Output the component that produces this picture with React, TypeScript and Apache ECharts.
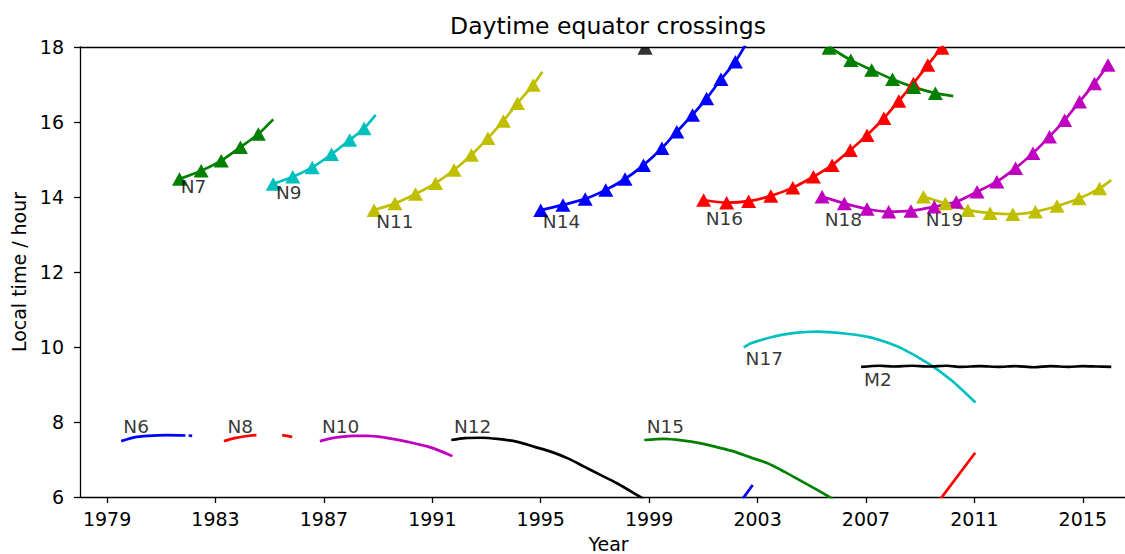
import React, { useEffect, useRef } from "react";
import * as echarts from "echarts";

// ---------- data (years, local time in hours) ----------
const xTickYears = [1979, 1983, 1987, 1991, 1995, 1999, 2003, 2007, 2011, 2015];

// Daytime (ascending) crossings with markers; marked = 1 means a triangle marker
const n7Years = [1981.67, 1982.47, 1983.21, 1983.92, 1984.58, 1985.13];
const n7Hours = [14.48, 14.70, 14.97, 15.33, 15.68, 16.07];
const n7Marked = [1, 1, 1, 1, 1, 0];

const n9Years = [1985.13, 1985.85, 1986.57, 1987.28, 1987.95, 1988.48, 1988.91];
const n9Hours = [14.35, 14.54, 14.79, 15.14, 15.52, 15.83, 16.19];
const n9Marked = [1, 1, 1, 1, 1, 1, 0];

const n11Years = [1988.85, 1989.62, 1990.38, 1991.12, 1991.80, 1992.44, 1993.05, 1993.62, 1994.14, 1994.72, 1995.06];
const n11Hours = [13.65, 13.83, 14.08, 14.37, 14.72, 15.12, 15.57, 16.03, 16.50, 16.99, 17.34];
const n11Marked = [1, 1, 1, 1, 1, 1, 1, 1, 1, 1, 0];

const n14Years = [1995.0, 1995.82, 1996.64, 1997.40, 1998.11, 1998.79, 1999.47, 2000.02, 2000.60, 2001.12, 2001.65, 2002.18, 2002.75];
const n14Hours = [13.65, 13.79, 13.95, 14.19, 14.48, 14.85, 15.30, 15.74, 16.19, 16.63, 17.14, 17.61, 18.3];
const n14Marked = [1, 1, 1, 1, 1, 1, 1, 1, 1, 1, 1, 1, 0];

const n16Years = [2001.01, 2001.86, 2002.67, 2003.49, 2004.30, 2005.06, 2005.75, 2006.42, 2007.04, 2007.66, 2008.21, 2008.75, 2009.28, 2009.80, 2010.0];
const n16Hours = [13.92, 13.85, 13.89, 14.03, 14.25, 14.54, 14.85, 15.25, 15.65, 16.10, 16.56, 17.03, 17.52, 18.0, 18.25];
const n16Marked = [1, 1, 1, 1, 1, 1, 1, 1, 1, 1, 1, 1, 1, 1, 0];

const n15DayYears = [2005.64, 2006.44, 2007.21, 2007.98, 2008.76, 2009.56, 2010.22];
const n15DayHours = [18.0, 17.65, 17.39, 17.14, 16.93, 16.77, 16.69];
const n15DayMarked = [1, 1, 1, 1, 1, 1, 0];

const n18Years = [2005.38, 2006.20, 2007.04, 2007.84, 2008.66, 2009.52, 2010.33, 2011.10, 2011.83, 2012.52, 2013.16, 2013.77, 2014.33, 2014.88, 2015.43, 2015.93];
const n18Hours = [14.01, 13.83, 13.68, 13.61, 13.63, 13.74, 13.87, 14.14, 14.41, 14.77, 15.17, 15.61, 16.05, 16.54, 17.03, 17.52];
const n18Marked = [1, 1, 1, 1, 1, 1, 1, 1, 1, 1, 1, 1, 1, 1, 1, 1];

const n19Years = [2009.12, 2009.93, 2010.76, 2011.58, 2012.42, 2013.25, 2014.05, 2014.86, 2015.62, 2016.05];
const n19Hours = [14.01, 13.83, 13.65, 13.57, 13.54, 13.61, 13.76, 13.96, 14.23, 14.45];
const n19Marked = [1, 1, 1, 1, 1, 1, 1, 1, 1, 0];

const n12DayYears = [1998.85];
const n12DayHours = [18.0];

// Morning crossings (plain lines); null = gap
const n6Years = [1979.52, 1980.0, 1980.5, 1981.2, 1981.89, 1981.95, 1982.01, 1982.14];
const n6Hours = [7.49, 7.59, 7.63, 7.65, 7.64, null, 7.64, 7.63];

const n8Years = [1983.31, 1983.7, 1984.1, 1984.51, 1985.0, 1985.46, 1985.65, 1985.83];
const n8Hours = [7.49, 7.57, 7.62, 7.65, null, 7.65, 7.63, 7.60];

const n10Years = [1986.85, 1987.3, 1987.7, 1988.1, 1988.6, 1989.2, 1989.83, 1990.4, 1991.0, 1991.74];
const n10Hours = [7.49, 7.57, 7.61, 7.63, 7.63, 7.59, 7.51, 7.42, 7.31, 7.09];

const n12Years = [1991.70, 1992.2, 1992.8, 1993.4, 1994.14, 1994.8, 1995.37, 1996.0, 1996.6, 1997.2, 1997.83, 1998.67, 1998.8];
const n12Hours = [7.52, 7.57, 7.58, 7.55, 7.47, 7.33, 7.21, 7.03, 6.81, 6.59, 6.36, 6.0, 5.94];

const n15Years = [1998.82, 1999.55, 2000.2, 2000.91, 2001.5, 2002.14, 2002.76, 2003.37, 2004.0, 2004.6, 2005.2, 2005.65, 2005.8];
const n15Hours = [7.52, 7.55, 7.51, 7.43, 7.33, 7.21, 7.05, 6.90, 6.67, 6.43, 6.19, 6.0, 5.93];

const n14bYears = [2002.45, 2002.82];
const n14bHours = [5.95, 6.32];

const n16bYears = [2009.75, 2011.03];
const n16bHours = [5.95, 7.18];

const n17Years = [2002.49, 2002.76, 2003.5, 2004.3, 2005.22, 2006.2, 2007.07, 2007.7, 2008.3, 2009.28, 2010.14, 2011.04];
const n17Hours = [9.99, 10.10, 10.26, 10.37, 10.41, 10.36, 10.27, 10.14, 9.97, 9.57, 9.12, 8.52];

const m2Years = [2006.82, 2007.5, 2008.0, 2008.7, 2009.3, 2010.0, 2010.5, 2011.2, 2011.9, 2012.5, 2013.2, 2013.8, 2014.5, 2015.0, 2015.5, 2016.05];
const m2Hours = [9.47, 9.50, 9.48, 9.50, 9.48, 9.50, 9.47, 9.49, 9.47, 9.49, 9.46, 9.49, 9.47, 9.49, 9.48, 9.47];

// Satellite labels (text anchor: left edge, vertical middle)
const labelNames = ["N6", "N7", "N8", "N9", "N10", "N11", "N12", "N14", "N15", "N16", "N17", "N18", "N19", "M2"];
const labelYears = [1979.58, 1981.70, 1983.42, 1985.21, 1986.91, 1988.91, 1991.78, 1995.06, 1998.89, 2001.07, 2002.54, 2005.46, 2009.19, 2006.91];
const labelHours = [7.89, 14.29, 7.89, 14.13, 7.89, 13.36, 7.89, 13.34, 7.89, 13.43, 9.69, 13.41, 13.41, 9.14];

// ---------- styling ----------
const FONT = "DejaVu Sans";
const C = {
  g: "#008000",
  c: "#00BFBF",
  y: "#BFBF00",
  b: "#0000FF",
  r: "#FF0000",
  m: "#BF00BF",
  k: "#000000",
};
const LINE_W = 2.7;
const TRI_SIZE = [15, 13.5];
const CLIPPED_TRI = "path://M3.75,0L11.25,0L15,7.5L0,7.5Z";
const SMOOTH = 0.25;

function markedSeries(name: string, color: string, years: number[], hours: number[], marked: number[]) {
  const data = years.map((x, i) => {
    if (!marked[i]) return { value: [x, hours[i]], symbol: "none" };
    if (hours[i] >= 17.98) {
      return {
        value: [x, hours[i]],
        symbol: CLIPPED_TRI,
        symbolSize: [15, 7.5],
        symbolOffset: [0, 4],
      };
    }
    return { value: [x, hours[i]] };
  });
  return {
    name,
    type: "line",
    data,
    smooth: SMOOTH,
    symbol: "triangle",
    symbolSize: TRI_SIZE,
    showSymbol: true,
    clip: true,
    lineStyle: { color, width: LINE_W },
    itemStyle: { color, borderWidth: 0 },
    emphasis: { disabled: true },
    silent: true,
    z: 3,
  };
}

function plainSeries(name: string, color: string, years: number[], hours: (number | null)[]) {
  return {
    name,
    type: "line",
    data: years.map((x, i) => (hours[i] === null ? [x, "-"] : [x, hours[i]])),
    smooth: SMOOTH,
    connectNulls: false,
    symbol: "none",
    showSymbol: false,
    clip: true,
    lineStyle: { color, width: LINE_W },
    itemStyle: { color },
    emphasis: { disabled: true },
    silent: true,
    z: 2,
  };
}

export default function App() {
  const ref = useRef<HTMLDivElement>(null);

  useEffect(() => {
    if (!ref.current) return;
    const chart = echarts.init(ref.current, undefined, { renderer: "svg" });
    const axisLineStyle = { color: "#000", width: 1.3 };
    const option = {
      animation: false,
      backgroundColor: "#fff",
      textStyle: { fontFamily: FONT },
      grid: { left: 80, right: -12, top: 47, bottom: 57, containLabel: false, outerBoundsMode: "none" },
      graphic: [
        {
          type: "text",
          x: 608,
          y: 26,
          style: {
            text: "Daytime equator crossings",
            fontSize: 23.5,
            fontFamily: FONT,
            fill: "#000",
            align: "center",
            verticalAlign: "middle",
          },
        },
      ],
      xAxis: [
        {
          type: "value",
          min: 1978,
          max: 2017,
          axisLine: { show: true, onZero: false, lineStyle: axisLineStyle },
          axisTick: { show: true, inside: false, length: 6, customValues: xTickYears, lineStyle: axisLineStyle },
          axisLabel: {
            customValues: xTickYears,
            formatter: (v: number) => String(v),
            fontSize: 19,
            color: "#000",
            margin: 12,
            fontFamily: FONT,
          },
          splitLine: { show: false },
          name: "Year",
          nameLocation: "middle",
          nameGap: 37,
          nameTextStyle: { fontSize: 19, color: "#000", fontFamily: FONT },
        },
        {
          type: "value",
          position: "top",
          min: 1978,
          max: 2017,
          axisLine: { show: true, onZero: false, lineStyle: axisLineStyle },
          axisTick: { show: false },
          axisLabel: { show: false },
          splitLine: { show: false },
        },
      ],
      yAxis: {
        type: "value",
        min: 6,
        max: 18,
        interval: 2,
        axisLine: { show: true, onZero: false, lineStyle: axisLineStyle },
        axisTick: { show: true, inside: false, length: 6, lineStyle: axisLineStyle },
        axisLabel: { fontSize: 19, color: "#000", margin: 16, fontFamily: FONT },
        splitLine: { show: false },
        name: "Local time / hour",
        nameLocation: "middle",
        nameGap: 49,
        nameRotate: 90,
        nameTextStyle: { fontSize: 19, color: "#000", fontFamily: FONT },
      },
      series: [
        plainSeries("N6", C.b, n6Years, n6Hours),
        plainSeries("N8", C.r, n8Years, n8Hours),
        plainSeries("N10", C.m, n10Years, n10Hours),
        plainSeries("N12", C.k, n12Years, n12Hours),
        plainSeries("N15", C.g, n15Years, n15Hours),
        plainSeries("N14b", C.b, n14bYears, n14bHours),
        plainSeries("N16b", C.r, n16bYears, n16bHours),
        plainSeries("N17", C.c, n17Years, n17Hours),
        plainSeries("M2", C.k, m2Years, m2Hours),
        markedSeries("N7d", C.g, n7Years, n7Hours, n7Marked),
        markedSeries("N9d", C.c, n9Years, n9Hours, n9Marked),
        markedSeries("N11d", C.y, n11Years, n11Hours, n11Marked),
        markedSeries("N14d", C.b, n14Years, n14Hours, n14Marked),
        markedSeries("N16d", C.r, n16Years, n16Hours, n16Marked),
        markedSeries("N15d", C.g, n15DayYears, n15DayHours, n15DayMarked),
        markedSeries("N18d", C.m, n18Years, n18Hours, n18Marked),
        markedSeries("N19d", C.y, n19Years, n19Hours, n19Marked),
        {
          name: "N12d",
          type: "scatter",
          data: n12DayYears.map((x, i) => [x, n12DayHours[i]]),
          symbol: CLIPPED_TRI,
          symbolSize: [15, 7.5],
          symbolOffset: [0, 4],
          itemStyle: { color: C.k },
          clip: false,
          silent: true,
          z: 3,
        },
        {
          name: "labels",
          type: "scatter",
          data: labelNames.map((n, i) => ({ name: n, value: [labelYears[i], labelHours[i]] })),
          symbolSize: 1,
          itemStyle: { color: "rgba(0,0,0,0)" },
          clip: false,
          silent: true,
          label: {
            show: true,
            position: "right",
            distance: 0,
            formatter: "{b}",
            fontSize: 18.5,
            fontFamily: FONT,
            color: "#000",
          },
          z: 5,
        },
      ],
    };
    chart.setOption(option as any);
    return () => chart.dispose();
  }, []);

  return (
    <div
      ref={ref}
      style={{ position: "fixed", left: 0, top: 0, width: 1125, height: 554, background: "#fff" }}
    />
  );
}
